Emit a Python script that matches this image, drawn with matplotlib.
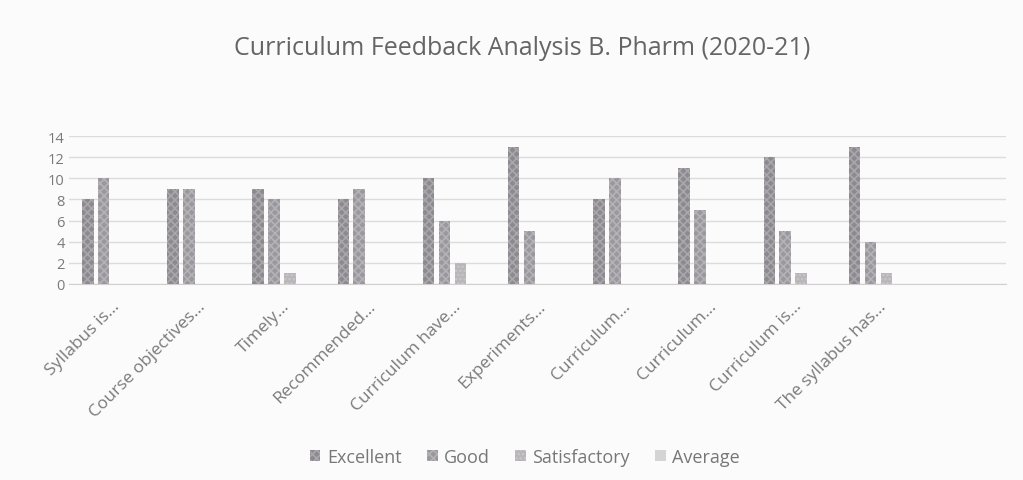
import numpy as np
import matplotlib.pyplot as plt

plt.rcParams['font.family'] = ['Open Sans', 'DejaVu Sans']
plt.rcParams['hatch.linewidth'] = 1.2

categories = ["Syllabus is...", "Course objectives...", "Timely...", "Recommended...",
              "Curriculum have...", "Experiments...", "Curriculum...", "Curriculum...",
              "Curriculum is...", "The syllabus has...", ""]
excellent = [8, 9, 9, 8, 10, 13, 8, 11, 12, 13, 0]
good = [10, 9, 8, 9, 6, 5, 10, 7, 5, 4, 0]
satisfactory = [0, 0, 1, 0, 2, 0, 0, 0, 1, 1, 0]
average = [0, 0, 0, 0, 0, 0, 0, 0, 0, 0, 0]

series = [("Excellent", excellent, "#8c8a8f", "#a9a7ab", "xxxx"),
          ("Good", good, "#9a989c", "#b4b2b6", "xxxx"),
          ("Satisfactory", satisfactory, "#b8b6b8", "#c9c7c9", "...."),
          ("Average", average, "#d4d4d4", "#d4d4d4", "")]

fig = plt.figure(figsize=(10.23, 4.81), dpi=100, facecolor="#fbfbfb")
ax = fig.add_axes([0.0675, 0.4075, 0.916, 0.3075])
ax.set_facecolor("#fbfbfb")

x = np.arange(len(categories))
width = 0.135
step = 0.187
for i, (name, vals, color, hcol, hatch) in enumerate(series):
    ax.bar(x + (i - 1.5) * step, vals, width, color=color, edgecolor=hcol,
           linewidth=0, hatch=hatch, label=name, zorder=3)

ax.set_xlim(-0.5, len(categories) - 0.5)
ax.set_ylim(0, 14)
ax.set_yticks(range(0, 15, 2))
ax.grid(axis="y", color="#dcdcdc", linewidth=1, zorder=0)
for s in ["top", "right", "left"]:
    ax.spines[s].set_visible(False)
ax.spines["bottom"].set_color("#d0d0d0")
ax.tick_params(axis="both", length=0, colors="#7a7a7a")
ax.tick_params(axis="y", labelsize=10.5, pad=3)
ax.tick_params(axis="x", labelsize=12.5, pad=10)
ax.set_xticks(x)
ax.set_xticklabels(categories, rotation=45, ha="right", rotation_mode="anchor")

fig.text(0.51, 0.9, "Curriculum Feedback Analysis B. Pharm (2020-21)",
         ha="center", va="center", fontsize=18, color="#656565")

ax.legend(loc="center", bbox_to_anchor=(0.513, 0.048), bbox_transform=fig.transFigure,
          ncol=4, frameon=False, fontsize=13, labelcolor="#777777",
          handlelength=0.6, handleheight=0.6, handletextpad=0.35, columnspacing=1.4)

fig.savefig("out.png", dpi=100, facecolor=fig.get_facecolor())
